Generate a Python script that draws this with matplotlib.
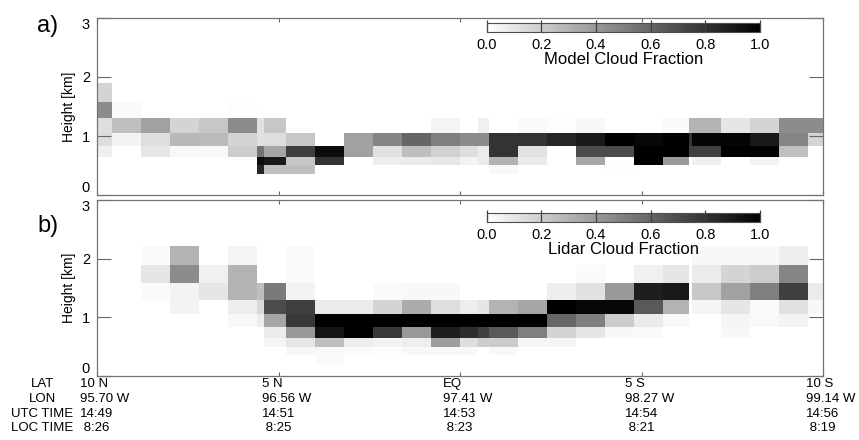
import numpy as np
import matplotlib
matplotlib.use('Agg')
import matplotlib.pyplot as plt
from matplotlib import transforms
from matplotlib.cm import ScalarMappable
from matplotlib.colors import Normalize

plt.rcParams['font.family'] = ['Liberation Sans', 'DejaVu Sans']

# column edges along the track (deg latitude) and model level edges (km)
LAT_EDGES = [10.0, 9.6, 8.8, 8.0, 7.2, 6.4, 5.6, 5.4, 4.8, 4.0, 3.2, 2.4, 1.6, 0.8, 0.0,
             -0.5, -0.8, -1.6, -2.4, -3.2, -4.0, -4.8, -5.6, -6.3, -6.4, -7.2, -8.0,
             -8.8, -9.6, -10.0]
HEIGHT_EDGES = [0.2, 0.35, 0.5, 0.65, 0.83, 1.05, 1.3, 1.58, 1.9, 2.22]

# cloud fraction per column, levels from bottom to top
MODEL_CF = [
    [0, 0, 0, .06, .13, .13, .45, .17, 0],
    [0, 0, 0, 0, .05, .25, .02, 0, 0],
    [0, 0, 0, .10, .13, .37, 0, 0, 0],
    [0, 0, 0, .03, .28, .17, 0, 0, 0],
    [0, 0, 0, .03, .27, .22, 0, 0, 0],
    [0, 0, 0, .20, .17, .45, .01, 0, 0],
    [0, .85, .95, .55, .12, .12, 0, 0, 0],
    [0, .25, .90, .35, .13, .22, 0, 0, 0],
    [0, .25, .22, .75, .22, 0, 0, 0, 0],
    [0, 0, .80, .95, 0, 0, 0, 0, 0],
    [0, 0, 0, .37, .37, 0, 0, 0, 0],
    [0, 0, .07, .12, .48, 0, 0, 0, 0],
    [0, 0, .08, .25, .60, 0, 0, 0, 0],
    [0, 0, .10, .18, .50, .04, 0, 0, 0],
    [0, 0, .05, .13, .45, 0, 0, 0, 0],
    [0, 0, .08, .08, .45, .06, 0, 0, 0],
    [0, .03, .30, .80, .80, 0, 0, 0, 0],
    [0, 0, .08, .12, .80, .02, 0, 0, 0],
    [0, 0, 0, 0, .85, .01, 0, 0, 0],
    [0, 0, .35, .70, .90, .03, 0, 0, 0],
    [0, .01, 0, .70, 1.0, 0, 0, 0, 0],
    [0, 0, 1.0, 1.0, .97, 0, 0, 0, 0],
    [0, 0, .40, 1.0, 1.0, .02, 0, 0, 0],
    [0, 0, 0, .75, .80, .30, 0, 0, 0],
    [0, 0, .06, .75, .98, .30, 0, 0, 0],
    [0, 0, 0, 1.0, .98, .10, 0, 0, 0],
    [0, 0, .05, 1.0, .90, .17, 0, 0, 0],
    [0, 0, 0, .25, .48, .45, 0, 0, 0],
    [0, 0, 0, 0, .17, .45, 0, 0, 0],
]

LIDAR_CF = [
    [0, 0, 0, 0, 0, 0, 0, 0, 0],
    [0, 0, 0, 0, 0, 0, 0, 0, 0],
    [0, 0, 0, 0, 0, 0, .02, .10, .02],
    [0, 0, 0, 0, 0, .05, .05, .45, .30],
    [0, 0, 0, 0, 0, 0, .10, .06, 0],
    [0, 0, 0, 0, .03, .07, .30, .30, .04],
    [0, 0, 0, 0, .07, .15, .25, 0, 0],
    [0, 0, .04, .08, .35, .70, .52, 0, 0],
    [0, .03, .10, .40, .78, .75, .05, .02, .02],
    [.02, .03, .25, .92, 1.0, .08, 0, 0, 0],
    [0, .02, .07, 1.0, 1.0, .08, 0, 0, 0],
    [0, .01, .05, .78, 1.0, .17, .02, 0, 0],
    [0, .03, .07, .40, 1.0, .33, .03, 0, 0],
    [0, .03, .38, .88, 1.0, .13, .03, 0, 0],
    [0, .03, .13, .82, 1.0, .07, 0, 0, 0],
    [0, 0, .20, .75, 1.0, .10, 0, 0, 0],
    [0, .03, .20, .65, 1.0, .30, 0, 0, 0],
    [0, 0, .04, .50, 1.0, .35, 0, 0, 0],
    [0, 0, .04, .17, .60, 1.0, .07, 0, 0],
    [0, 0, 0, .10, .50, .97, .12, .02, 0],
    [0, 0, 0, .03, .20, .97, .40, 0, 0],
    [0, 0, 0, .02, .08, .65, .88, .06, 0],
    [0, 0, 0, 0, .03, .30, .90, .10, 0],
    [0, 0, 0, 0, 0, 0, 0, 0, 0],
    [0, 0, 0, 0, 0, .04, .22, .08, .03],
    [0, 0, 0, .03, .04, .10, .37, .17, .03],
    [0, 0, 0, 0, .03, .02, .50, .20, .03],
    [0, 0, 0, 0, .05, .12, .75, .48, .07],
    [0, 0, 0, 0, 0, .03, .08, 0, 0],
]

LAT_TICKS = [10, 5, 0, -5, -10]
ROW_NAMES = ['LAT', 'LON', 'UTC TIME', 'LOC TIME']
LAT_LABELS = ['10 N', '5 N', 'EQ', '5 S', '10 S']
LON_LABELS = ['95.70 W', '96.56 W', '97.41 W', '98.27 W', '99.14 W']
UTC_LABELS = ['14:49', '14:51', '14:53', '14:54', '14:56']
LOC_LABELS = [' 8:26', ' 8:25', ' 8:23', ' 8:21', ' 8:19']

W, H = 859, 440
fig = plt.figure(figsize=(W / 100, H / 100), dpi=100)
ax_a = fig.add_axes([97 / W, 1 - 195 / H, 726 / W, 177 / H])
ax_b = fig.add_axes([97 / W, 1 - 376 / H, 726 / W, 176 / H])

cmap = 'gray_r'
norm = Normalize(0, 1)


def draw_panel(ax, data, letter, letter_y, title, cb_box):
    ax.pcolormesh(LAT_EDGES, HEIGHT_EDGES, np.array(data).T, cmap=cmap, norm=norm,
                  shading='flat', edgecolors='none')
    ax.set_xlim(10, -10)
    ax.set_ylim(0, 3)
    ax.set_xticks(LAT_TICKS)
    ax.set_yticks([0, 1, 2, 3])
    ax.tick_params(axis='x', direction='in', length=3, top=True, bottom=True,
                   labelbottom=False, color='0.4')
    ax.tick_params(axis='y', direction='in', length=10, left=True, right=True,
                   labelsize=10.5, pad=5, color='0.4')
    # keep end labels inside the panel height, as in the original
    ylabs = ax.get_yticklabels()
    ylabs[0].set_va('bottom')
    ylabs[-1].set_va('top')
    for sp in ax.spines.values():
        sp.set_color('0.45')
        sp.set_linewidth(0.9)
    ax.set_ylabel('Height [km]', fontsize=10, labelpad=4)
    ax.text(-0.068, letter_y, letter, transform=ax.transAxes, fontsize=17,
            ha='center', va='center')

    cax = ax.inset_axes(cb_box)
    cb = fig.colorbar(ScalarMappable(norm=norm, cmap=cmap), cax=cax,
                      orientation='horizontal', ticks=[0, .2, .4, .6, .8, 1.0])
    cb.ax.set_xticklabels(['0.0', '0.2', '0.4', '0.6', '0.8', '1.0'])
    cb.ax.tick_params(direction='in', length=9, width=0.9, color='0.25',
                      labelsize=10.5, pad=4)
    cb.outline.set_edgecolor('0.3')
    cb.outline.set_linewidth(0.8)
    cb.set_label(title, fontsize=12, labelpad=0)


draw_panel(ax_a, MODEL_CF, 'a)', 0.955, 'Model Cloud Fraction', [0.537, 0.921, 0.376, 0.05])
draw_panel(ax_b, LIDAR_CF, 'b)', 0.85, 'Lidar Cloud Fraction', [0.537, 0.874, 0.376, 0.052])

# along-track annotation rows under the lower panel
trans = transforms.blended_transform_factory(ax_b.transData, fig.transFigure)
trans = transforms.offset_copy(trans, fig=fig, x=-17, y=0, units='dots')
rows = [LAT_LABELS, LON_LABELS, UTC_LABELS, LOC_LABELS]
row_y = [384, 399, 414, 428]
for name, labels, yy in zip(ROW_NAMES, rows, row_y):
    fig.text(42 / W, 1 - yy / H, name, ha='center', va='center', fontsize=9.5)
    for lat, lab in zip(LAT_TICKS, labels):
        fig.text(lat, 1 - yy / H, lab, transform=trans, ha='left', va='center',
                 fontsize=9.5)

fig.savefig('out.png', dpi=100)
